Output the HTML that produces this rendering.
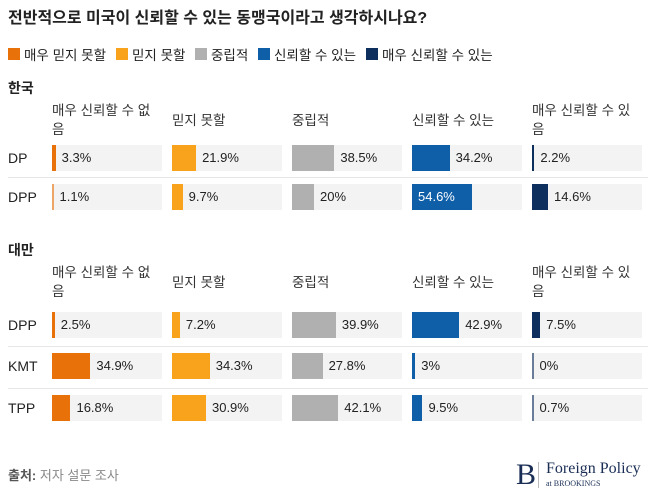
<!DOCTYPE html><html><head><meta charset="utf-8"><style>
body{margin:0;width:658px;height:490px;background:#fff;font-family:"Liberation Sans","Noto Sans CJK KR",sans-serif;color:#222;position:relative;overflow:hidden}
.a{position:absolute;white-space:nowrap}
.lg{position:absolute;top:44px;font-size:13.5px;display:flex;align-items:center}
.lg i{display:inline-block;width:12px;height:12px;margin-right:4px}
</style></head><body>
<div class="a" style="left:8px;top:4px;font-size:16px;font-weight:bold">전반적으로 미국이 신뢰할 수 있는 동맹국이라고 생각하시나요?</div>
<div id="legend"></div>
<div id="chart"></div>
<div class="a" style="left:8px;top:465px;font-size:13px;color:#888"><b style="color:#555">출처:</b> 저자 설문 조사</div>
<div class="a" style="left:516px;top:458px;color:#1a2e55;font-family:'Liberation Serif',serif">
<span style="font-size:30px;position:absolute;left:0;top:0">B</span>
<span style="position:absolute;left:22px;top:4px;width:1px;height:26px;background:#bbb"></span>
<span style="position:absolute;left:30px;top:2px;font-size:16px">Foreign Policy</span>
<span style="position:absolute;left:30px;top:21px;font-size:8px">at BROOKINGS</span></div>
<script>
const categories=["매우 신뢰할 수 없음","믿지 못할","중립적","신뢰할 수 있는","매우 신뢰할 수 있음"];
const legendLabels=["매우 믿지 못할","믿지 못할","중립적","신뢰할 수 있는","매우 신뢰할 수 있는"];
const colors=["#e8710a","#f9a21c","#b0b0b0","#0e5ea8","#0d2f5e"];
const groups=["한국","대만"];
const krParties=["DP","DPP"];
const krValues=[[3.3,21.9,38.5,34.2,2.2],[1.1,9.7,20,54.6,14.6]];
const twParties=["DPP","KMT","TPP"];
const twValues=[[2.5,7.2,39.9,42.9,7.5],[34.9,34.3,27.8,3,0],[16.8,30.9,42.1,9.5,0.7]];
const colX=[52,172,292,412,532], colW=110;
const xs=v=>v/100*colW;
function mk(tag,css,txt){const e=document.createElement(tag);e.className='a';e.style.cssText=css;if(txt!==undefined)e.textContent=txt;document.body.appendChild(e);return e;}
let lx=8;
legendLabels.forEach((l,i)=>{const d=document.createElement('div');d.className='lg';d.style.left=lx+'px';d.innerHTML='<i style="background:'+colors[i]+'"></i>'+l;


document.body.appendChild(d);lx+=d.offsetWidth+10;});
function group(name,y0,parties,vals,rowYs){
 const g=mk('div','left:8px;top:'+y0+'px;font-size:14px;font-weight:bold',name);
 
 
 categories.forEach((c,j)=>{const h=mk('div','left:'+colX[j]+'px;top:'+(y0+23)+'px;font-size:13.5px;white-space:normal;width:100px;line-height:19px;color:#333;word-break:break-all',c);
  if(c.length<=8){h.style.top=(y0+33)+'px';}
  
  });
 parties.forEach((p,r)=>{const y=rowYs[r];
  const l=mk('div','left:8px;top:'+(y+5)+'px;font-size:14px',p);
  
  
  if(r>0){const s=mk('div','left:8px;top:'+(y-7)+'px;width:640px;height:1px;background:#e6e6e6');
   
   }
  vals[r].forEach((v,j)=>{
   const bg=mk('div','left:'+colX[j]+'px;top:'+y+'px;width:'+colW+'px;height:26px;background:#f3f3f3');
   
   
   const w=Math.max(xs(v),1.5);
   const b=mk('div','left:'+colX[j]+'px;top:'+y+'px;width:'+w+'px;height:26px;background:'+colors[j]+(v<2?';opacity:.6':''));
   
   
   const inside=v>50;
   const t=mk('div','left:'+(inside?colX[j]+6:colX[j]+w+6)+'px;top:'+(y+5)+'px;font-size:13px;color:'+(inside?'#fff':'#222'),v+'%');
   
   
  });
 });
}
group(groups[0],78,krParties,krValues,[145,184]);
group(groups[1],240,twParties,twValues,[312,353,395]);
</script>
</body></html>
